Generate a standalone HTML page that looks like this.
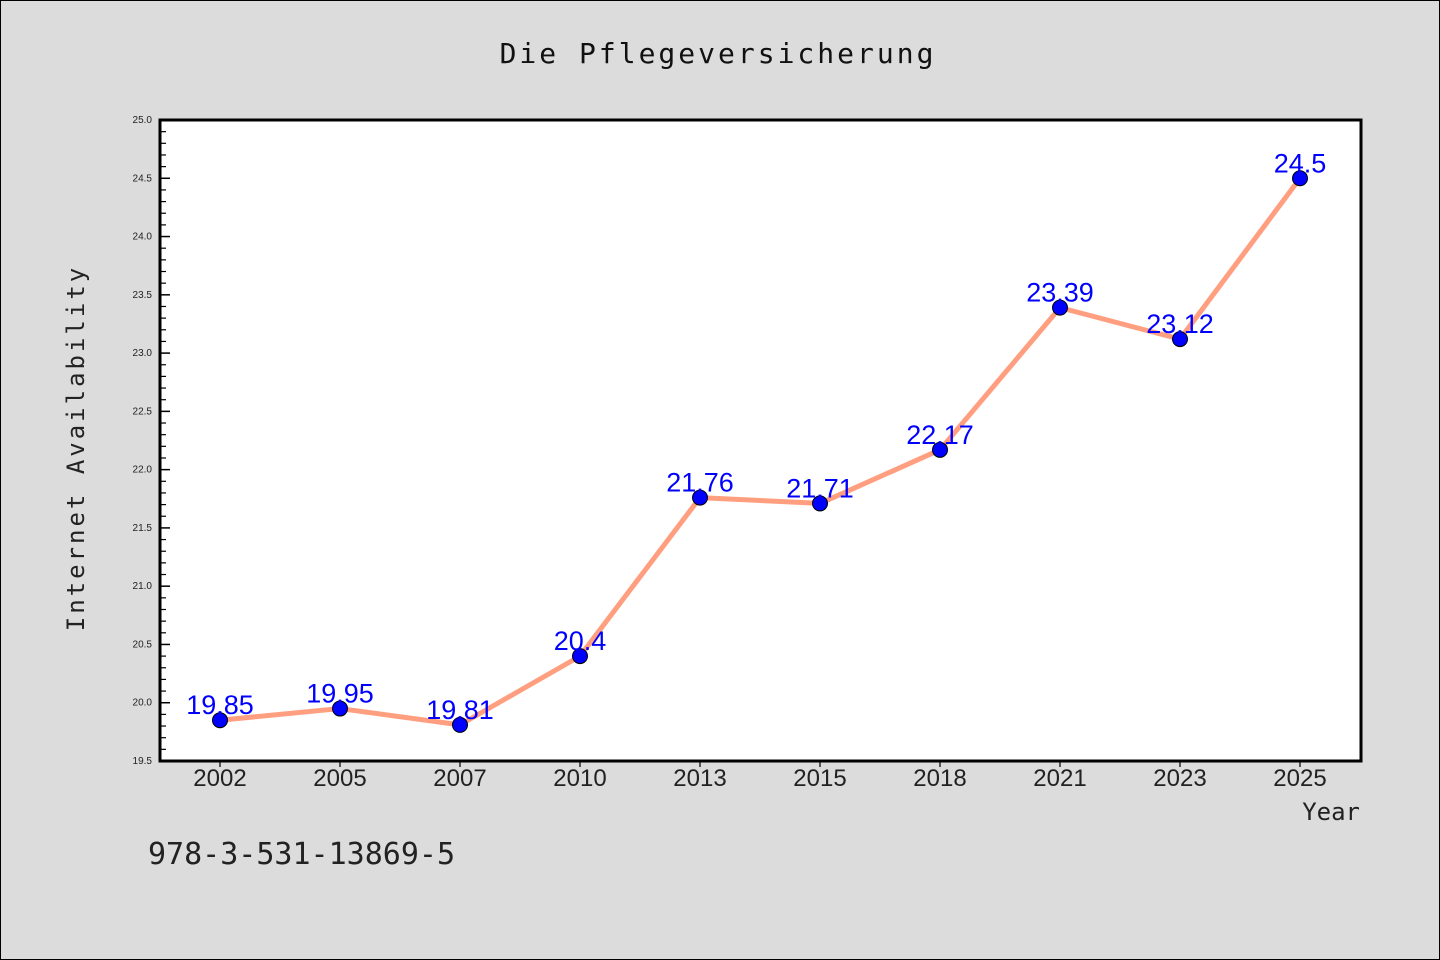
<!DOCTYPE html>
<html><head><meta charset="utf-8"><style>
body{margin:0;background:#dcdcdc;}
svg{display:block;font-family:"Liberation Sans","DejaVu Sans",sans-serif;}
</style></head><body>
<svg id="chart" width="1440" height="960">
<rect x="0.5" y="0.5" width="1439" height="959" fill="#dcdcdc" stroke="#000"/>
<text x="718" y="63" text-anchor="middle" font-size="28" letter-spacing="3" font-family="DejaVu Sans Mono, monospace" fill="#111">Die Pflegeversicherung</text>
<rect x="160" y="120" width="1201" height="641" fill="#fff" stroke="#000" stroke-width="3"/>
<text transform="translate(84,448) rotate(-90)" text-anchor="middle" font-size="24" letter-spacing="3" font-family="DejaVu Sans Mono, monospace" fill="#222">Internet Availability</text>
<text x="1360" y="820" text-anchor="end" font-size="24" font-family="DejaVu Sans Mono, monospace" fill="#222">Year</text>
<text x="148" y="864" font-size="30" font-family="DejaVu Sans Mono, monospace" fill="#222">978-3-531-13869-5</text>
<g id="axes"></g><g id="series"></g>
</svg>
<script>
const categories=["2002","2005","2007","2010","2013","2015","2018","2021","2023","2025"];
const values=[19.85,19.95,19.81,20.4,21.76,21.71,22.17,23.39,23.12,24.5];
const labels=["19.85","19.95","19.81","20.4","21.76","21.71","22.17","23.39","23.12","24.5"];
const yTicks=[19.5,20.0,20.5,21.0,21.5,22.0,22.5,23.0,23.5,24.0,24.5,25.0];
const NS="http://www.w3.org/2000/svg";
const x0=160,x1=1360,yTop=120,yBot=761,yMin=19.5,yMax=25;
const step=(x1-x0)/categories.length;
const xs=i=>x0+step*(i+0.5);
const ys=v=>yBot-(v-yMin)/(yMax-yMin)*(yBot-yTop);
function mk(t,a,p){const e=document.createElementNS(NS,t);for(const k in a)e.setAttribute(k,a[k]);p.appendChild(e);return e;}
const ax=document.getElementById('axes'),se=document.getElementById('series');
yTicks.forEach((v,i)=>{
  const y=ys(v);
  const t=mk('line',{x1:x0,x2:x0+10,y1:y,y2:y,stroke:'#000','stroke-width':1.5},ax);
  
  
  const l=mk('text',{x:x0-8,y:y+3,'text-anchor':'end','font-size':10,fill:'#222'},ax);
  l.textContent=v.toFixed(1);
  
  
  if(i<yTicks.length-1){for(let k=1;k<5;k++){const yy=ys(v+k*0.1);
    const m=mk('line',{x1:x0,x2:x0+6,y1:yy,y2:yy,stroke:'#000','stroke-width':1.2},ax);
    
    }}
});
categories.forEach((c,i)=>{
  const x=xs(i);
  const t=mk('line',{x1:x,x2:x,y1:yBot,y2:yBot+6,stroke:'#000','stroke-width':1.2},ax);
  
  
  const l=mk('text',{x:x,y:yBot+25,'text-anchor':'middle','font-size':24,fill:'#222'},ax);
  l.textContent=c;
  
  
});
const line=mk('polyline',{points:values.map((v,i)=>xs(i)+','+ys(v)).join(' '),fill:'none',stroke:'#ff9f7f','stroke-width':5,'stroke-linejoin':'round'},se);


values.forEach((v,i)=>{
  const p=mk('circle',{cx:xs(i),cy:ys(v),r:7.5,fill:'#0000ff',stroke:'#000','stroke-width':1},se);
  
  
  const l=mk('text',{x:xs(i),y:ys(v)-6,'text-anchor':'middle','font-size':27,fill:'#0000ff'},se);
  l.textContent=labels[i];
  
  
});
</script>
</body></html>
